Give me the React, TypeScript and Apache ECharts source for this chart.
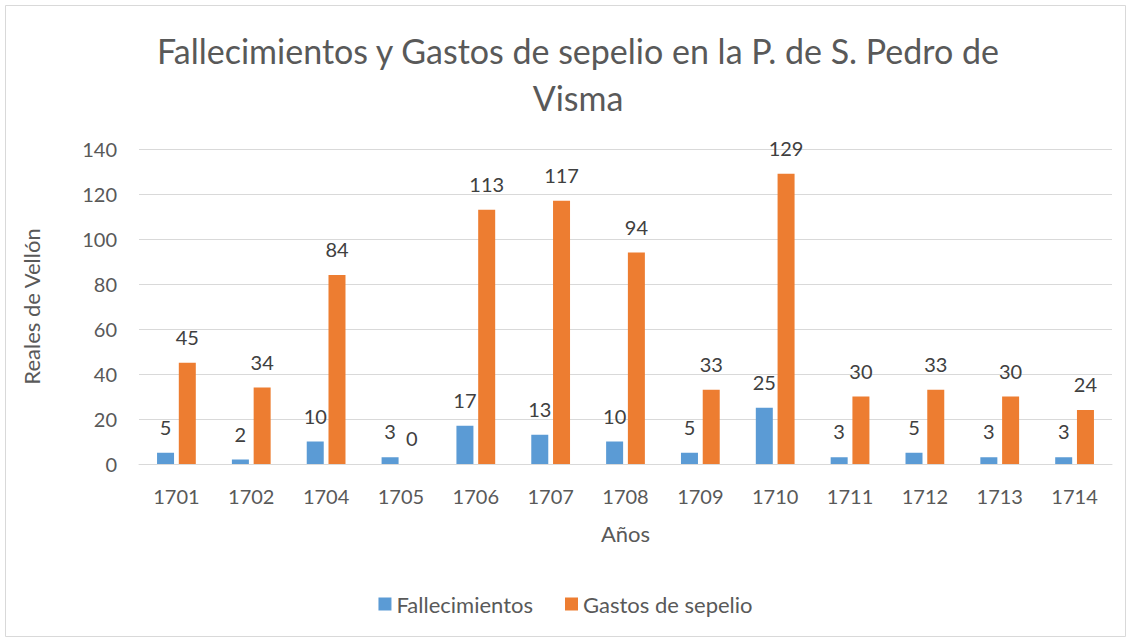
import React, { useEffect, useRef } from "react";
import * as echarts from "echarts";

const years = ["1701", "1702", "1704", "1705", "1706", "1707", "1708", "1709", "1710", "1711", "1712", "1713", "1714"];
const fallecimientos = [5, 2, 10, 3, 17, 13, 10, 5, 25, 3, 5, 3, 3];
const gastos = [45, 34, 84, 0, 113, 117, 94, 33, 129, 30, 33, 30, 24];

const FONT = "Lato, 'Open Sans', sans-serif";

export default function App() {
  const ref = useRef<HTMLDivElement>(null);
  useEffect(() => {
    document.body.style.margin = "0";
    const chart = echarts.init(ref.current!, null, { renderer: "svg" });
    const label = {
      show: true,
      position: "top",
      distance: 16,
      color: "#404040",
      fontSize: 20,
      fontFamily: FONT,
    };
    chart.setOption({
      animation: false,
      backgroundColor: "#ffffff",
      textStyle: { fontFamily: FONT },
      title: {
        text: "Fallecimientos y Gastos de sepelio en la P. de S. Pedro de\nVisma",
        left: 573,
        textAlign: "center",
        top: 22,
        textStyle: { fontSize: 34, fontWeight: "normal", color: "#595959", lineHeight: 47, fontFamily: FONT },
      },
      graphic: [
        {
          type: "rect",
          shape: { x: 5.5, y: 5.5, width: 1120, height: 631 },
          style: { fill: "none", stroke: "#d9d9d9", lineWidth: 1 },
          silent: true,
        },
      ],
      legend: {
        bottom: 22,
        left: "center",
        itemWidth: 13,
        itemHeight: 13,
        itemGap: 32,
        icon: "rect",
        textStyle: { fontSize: 22, color: "#595959", fontFamily: FONT },
        data: ["Fallecimientos", "Gastos de sepelio"],
      },
      grid: { left: 139, right: 19, top: 149, bottom: 178, containLabel: false },
      xAxis: {
        type: "category",
        data: years,
        name: "Años",
        nameLocation: "middle",
        nameGap: 58,
        nameTextStyle: { fontSize: 22, color: "#595959", fontFamily: FONT },
        axisLine: { lineStyle: { color: "#d9d9d9" } },
        axisTick: { show: false },
        axisLabel: { fontSize: 20, color: "#595959", margin: 22, fontFamily: FONT },
      },
      yAxis: {
        type: "value",
        min: 0,
        max: 140,
        interval: 20,
        name: "Reales de Vellón",
        nameLocation: "middle",
        nameGap: 97,
        nameTextStyle: { fontSize: 22, color: "#595959", fontFamily: FONT },
        axisLine: { show: false },
        axisTick: { show: false },
        axisLabel: { fontSize: 20, color: "#595959", margin: 22, fontFamily: FONT },
        splitLine: { lineStyle: { color: "#d9d9d9" } },
      },
      series: [
        {
          name: "Fallecimientos",
          type: "bar",
          data: fallecimientos,
          barWidth: 17,
          barGap: "28%",
          itemStyle: { color: "#5b9bd5" },
          label,
        },
        {
          name: "Gastos de sepelio",
          type: "bar",
          data: gastos,
          barWidth: 17,
          itemStyle: { color: "#ed7d31" },
          label,
        },
      ],
    });
    return () => chart.dispose();
  }, []);
  return <div ref={ref} style={{ position: "absolute", left: 0, top: 0, width: 1131, height: 642 }} />;
}
